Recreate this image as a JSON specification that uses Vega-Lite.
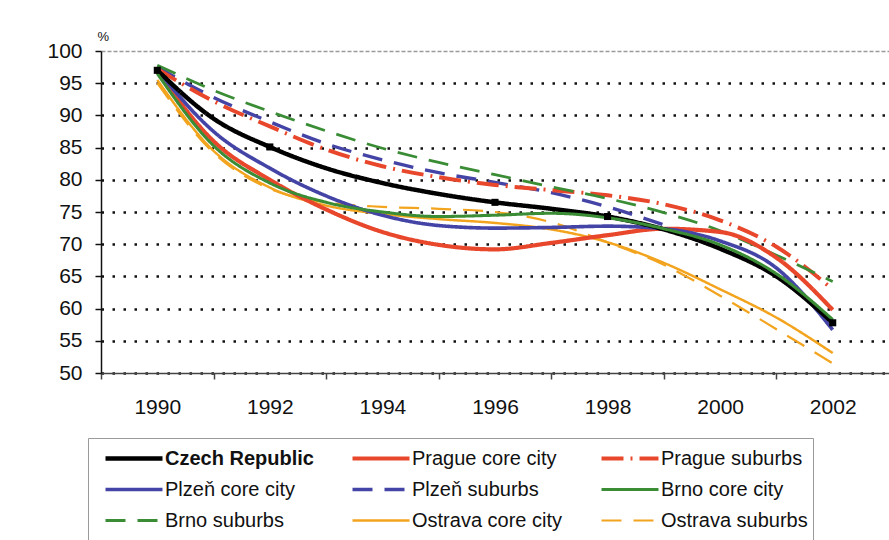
{
  "$schema": "https://vega.github.io/schema/vega-lite/v6.json",
  "width": 788,
  "height": 322,
  "autosize": "none",
  "padding": {"left": 101, "top": 51, "right": 0, "bottom": 167},
  "background": "white",
  "config": {"view": {"stroke": null}, "font": "Liberation Sans"},
  "data": {"values": [
    {"series": "Plzeň suburbs", "year": 1990, "value": 97.5},
    {"series": "Plzeň suburbs", "year": 1991, "value": 92.8},
    {"series": "Plzeň suburbs", "year": 1992, "value": 89.0},
    {"series": "Plzeň suburbs", "year": 1993, "value": 85.6},
    {"series": "Plzeň suburbs", "year": 1994, "value": 83.1},
    {"series": "Plzeň suburbs", "year": 1995, "value": 81.1},
    {"series": "Plzeň suburbs", "year": 1996, "value": 79.6},
    {"series": "Plzeň suburbs", "year": 1997, "value": 78.0},
    {"series": "Plzeň suburbs", "year": 1998, "value": 75.8},
    {"series": "Plzeň suburbs", "year": 1999, "value": 73.0},
    {"series": "Prague suburbs", "year": 1990, "value": 97.2},
    {"series": "Prague suburbs", "year": 1991, "value": 92.2},
    {"series": "Prague suburbs", "year": 1992, "value": 88.3},
    {"series": "Prague suburbs", "year": 1993, "value": 84.7},
    {"series": "Prague suburbs", "year": 1994, "value": 82.1},
    {"series": "Prague suburbs", "year": 1995, "value": 80.4},
    {"series": "Prague suburbs", "year": 1996, "value": 79.2},
    {"series": "Prague suburbs", "year": 1997, "value": 78.4},
    {"series": "Prague suburbs", "year": 1998, "value": 77.6},
    {"series": "Prague suburbs", "year": 1999, "value": 76.2},
    {"series": "Prague suburbs", "year": 2000, "value": 73.7},
    {"series": "Prague suburbs", "year": 2001, "value": 69.6},
    {"series": "Prague suburbs", "year": 2002, "value": 63.0},
    {"series": "Brno suburbs", "year": 1990, "value": 97.8},
    {"series": "Brno suburbs", "year": 1991, "value": 93.9},
    {"series": "Brno suburbs", "year": 1992, "value": 90.6},
    {"series": "Brno suburbs", "year": 1993, "value": 87.6},
    {"series": "Brno suburbs", "year": 1994, "value": 84.9},
    {"series": "Brno suburbs", "year": 1995, "value": 82.7},
    {"series": "Brno suburbs", "year": 1996, "value": 80.8},
    {"series": "Brno suburbs", "year": 1997, "value": 78.9},
    {"series": "Brno suburbs", "year": 1998, "value": 77.1},
    {"series": "Brno suburbs", "year": 1999, "value": 74.9},
    {"series": "Brno suburbs", "year": 2000, "value": 72.1},
    {"series": "Brno suburbs", "year": 2001, "value": 68.3},
    {"series": "Brno suburbs", "year": 2002, "value": 64.2},
    {"series": "Ostrava suburbs", "year": 1990, "value": 95.0},
    {"series": "Ostrava suburbs", "year": 1991, "value": 84.2},
    {"series": "Ostrava suburbs", "year": 1992, "value": 78.6},
    {"series": "Ostrava suburbs", "year": 1993, "value": 76.5},
    {"series": "Ostrava suburbs", "year": 1994, "value": 75.8},
    {"series": "Ostrava suburbs", "year": 1995, "value": 75.5},
    {"series": "Ostrava suburbs", "year": 1996, "value": 75.0},
    {"series": "Ostrava suburbs", "year": 1997, "value": 73.4},
    {"series": "Ostrava suburbs", "year": 1998, "value": 70.3},
    {"series": "Ostrava suburbs", "year": 1999, "value": 66.8},
    {"series": "Ostrava suburbs", "year": 2000, "value": 62.0},
    {"series": "Ostrava suburbs", "year": 2001, "value": 56.8},
    {"series": "Ostrava suburbs", "year": 2002, "value": 51.5},
    {"series": "Ostrava core city", "year": 1990, "value": 95.5},
    {"series": "Ostrava core city", "year": 1991, "value": 84.5},
    {"series": "Ostrava core city", "year": 1992, "value": 78.8},
    {"series": "Ostrava core city", "year": 1993, "value": 76.0},
    {"series": "Ostrava core city", "year": 1994, "value": 74.7},
    {"series": "Ostrava core city", "year": 1995, "value": 73.9},
    {"series": "Ostrava core city", "year": 1996, "value": 73.3},
    {"series": "Ostrava core city", "year": 1997, "value": 72.3},
    {"series": "Ostrava core city", "year": 1998, "value": 70.3},
    {"series": "Ostrava core city", "year": 1999, "value": 67.1},
    {"series": "Ostrava core city", "year": 2000, "value": 63.0},
    {"series": "Ostrava core city", "year": 2001, "value": 58.6},
    {"series": "Ostrava core city", "year": 2002, "value": 53.1},
    {"series": "Prague core city", "year": 1990, "value": 96.8},
    {"series": "Prague core city", "year": 1991, "value": 86.0},
    {"series": "Prague core city", "year": 1992, "value": 80.0},
    {"series": "Prague core city", "year": 1993, "value": 75.4},
    {"series": "Prague core city", "year": 1994, "value": 71.9},
    {"series": "Prague core city", "year": 1995, "value": 69.9},
    {"series": "Prague core city", "year": 1996, "value": 69.2},
    {"series": "Prague core city", "year": 1997, "value": 70.2},
    {"series": "Prague core city", "year": 1998, "value": 71.4},
    {"series": "Prague core city", "year": 1999, "value": 72.4},
    {"series": "Prague core city", "year": 2000, "value": 71.9},
    {"series": "Prague core city", "year": 2001, "value": 67.9},
    {"series": "Prague core city", "year": 2002, "value": 59.8},
    {"series": "Plzeň core city", "year": 1990, "value": 97.0},
    {"series": "Plzeň core city", "year": 1991, "value": 87.5},
    {"series": "Plzeň core city", "year": 1992, "value": 81.8},
    {"series": "Plzeň core city", "year": 1993, "value": 77.5},
    {"series": "Plzeň core city", "year": 1994, "value": 74.5},
    {"series": "Plzeň core city", "year": 1995, "value": 72.9},
    {"series": "Plzeň core city", "year": 1996, "value": 72.5},
    {"series": "Plzeň core city", "year": 1997, "value": 72.6},
    {"series": "Plzeň core city", "year": 1998, "value": 72.8},
    {"series": "Plzeň core city", "year": 1999, "value": 72.4},
    {"series": "Plzeň core city", "year": 2000, "value": 70.5},
    {"series": "Plzeň core city", "year": 2001, "value": 66.3},
    {"series": "Plzeň core city", "year": 2002, "value": 56.7},
    {"series": "Czech Republic", "year": 1990, "value": 97.0},
    {"series": "Czech Republic", "year": 1991, "value": 89.5},
    {"series": "Czech Republic", "year": 1992, "value": 85.1},
    {"series": "Czech Republic", "year": 1993, "value": 81.8},
    {"series": "Czech Republic", "year": 1994, "value": 79.5},
    {"series": "Czech Republic", "year": 1995, "value": 77.8},
    {"series": "Czech Republic", "year": 1996, "value": 76.5},
    {"series": "Czech Republic", "year": 1997, "value": 75.5},
    {"series": "Czech Republic", "year": 1998, "value": 74.3},
    {"series": "Czech Republic", "year": 1999, "value": 72.3},
    {"series": "Czech Republic", "year": 2000, "value": 69.3},
    {"series": "Czech Republic", "year": 2001, "value": 65.0},
    {"series": "Czech Republic", "year": 2002, "value": 57.8},
    {"series": "Brno core city", "year": 1990, "value": 96.5},
    {"series": "Brno core city", "year": 1991, "value": 85.3},
    {"series": "Brno core city", "year": 1992, "value": 79.5},
    {"series": "Brno core city", "year": 1993, "value": 76.5},
    {"series": "Brno core city", "year": 1994, "value": 75.0},
    {"series": "Brno core city", "year": 1995, "value": 74.3},
    {"series": "Brno core city", "year": 1996, "value": 74.5},
    {"series": "Brno core city", "year": 1997, "value": 74.8},
    {"series": "Brno core city", "year": 1998, "value": 74.1},
    {"series": "Brno core city", "year": 1999, "value": 72.4},
    {"series": "Brno core city", "year": 2000, "value": 69.9},
    {"series": "Brno core city", "year": 2001, "value": 65.4},
    {"series": "Brno core city", "year": 2002, "value": 58.3}
  ]},
  "encoding": {
    "x": {
      "field": "year", "type": "quantitative",
      "scale": {"domain": [1989, 2003], "nice": false, "zero": false},
      "axis": {
        "values": [1990, 1992, 1994, 1996, 1998, 2000, 2002],
        "tickCount": 20,
        "format": "d", "title": null, "grid": false,
        "tickOffset": -56.29, "labelOffset": 56.29,
        "tickSize": 6, "tickWidth": 1.5, "tickColor": "#444444",
        "domainColor": "#444444", "domainWidth": 1.5,
        "labelFontSize": 21, "labelColor": "#111111", "labelPadding": 17,
        "labelFlush": false, "labelOverlap": false
      }
    },
    "y": {
      "field": "value", "type": "quantitative",
      "scale": {"domain": [50, 100], "nice": false, "zero": false},
      "axis": {
        "values": [50, 55, 60, 65, 70, 75, 80, 85, 90, 95, 100],
        "tickCount": 20,
        "labelOverlap": false, "labelFlush": false,
        "title": "%", "titleAngle": 0, "titleX": -4, "titleY": -8,
        "titleAlign": "left", "titleBaseline": "bottom",
        "titleFontSize": 13, "titleFontWeight": "normal", "titleColor": "#111111",
        "labelFontSize": 21, "labelColor": "#111111", "labelPadding": 13,
        "tickSize": 6, "tickWidth": 1.5, "tickColor": "#111111",
        "domainColor": "#111111", "domainWidth": 1.5,
        "grid": true,
        "gridColor": {"condition": {"test": "datum.value === 100", "value": "#9a9a9a"}, "value": "#111111"},
        "gridDash": {"condition": {"test": "datum.value === 100", "value": [4, 2]}, "value": [2.5, 8.5]},
        "gridWidth": {"condition": {"test": "datum.value === 100", "value": 1.5}, "value": 2.5}
      }
    }
  },
  "layer": [
    {
      "mark": {"type": "line", "interpolate": "monotone"},
      "encoding": {
        "color": {
          "field": "series", "type": "nominal",
          "scale": {
            "domain": ["Czech Republic", "Prague core city", "Prague suburbs", "Plzeň core city", "Plzeň suburbs", "Brno core city", "Brno suburbs", "Ostrava core city", "Ostrava suburbs"],
            "range": ["#000000", "#e8472b", "#e8472b", "#4444a6", "#4444a6", "#3a8c35", "#3a8c35", "#f3a41f", "#f3a41f"]
          },
          "legend": {
            "orient": "none", "legendX": -13, "legendY": 387,
            "direction": "horizontal", "columns": 3, "title": null,
            "symbolType": "stroke", "symbolSize": 3249, "symbolOffset": 10,
            "clipHeight": 31, "rowPadding": 0, "columnPadding": 26, "gridAlign": "each",
            "labelFont": "Liberation Sans", "labelFontSize": 20, "labelColor": "#111111",
            "labelOffset": 0, "labelLimit": 155,
            "padding": 5, "strokeColor": "#9a9a9a",
            "encode": {"labels": {"update": {"fontWeight": {"signal": "datum.value === 'Czech Republic' ? 'bold' : 'normal'"}}}}
          }
        },
        "strokeDash": {
          "field": "series", "type": "nominal",
          "scale": {
            "domain": ["Czech Republic", "Prague core city", "Prague suburbs", "Plzeň core city", "Plzeň suburbs", "Brno core city", "Brno suburbs", "Ostrava core city", "Ostrava suburbs"],
            "range": [[1, 0], [1, 0], [22, 7, 2, 7], [1, 0], [20, 12], [1, 0], [20, 12], [1, 0], [20, 12]]
          }
        },
        "strokeWidth": {
          "field": "series", "type": "nominal",
          "scale": {
            "domain": ["Czech Republic", "Prague core city", "Prague suburbs", "Plzeň core city", "Plzeň suburbs", "Brno core city", "Brno suburbs", "Ostrava core city", "Ostrava suburbs"],
            "range": [4.5, 2.2, 3.8, 2.2, 3.8, 2.2, 3.8, 2.5, 3.8]
          }
        }
      }
    },
    {
      "transform": [{"filter": "datum.series === 'Czech Republic' && indexof([1990, 1992, 1996, 1998, 2002], datum.year) >= 0"}],
      "mark": {"type": "square", "size": 50, "color": "#000000", "opacity": 1}
    }
  ]
}
